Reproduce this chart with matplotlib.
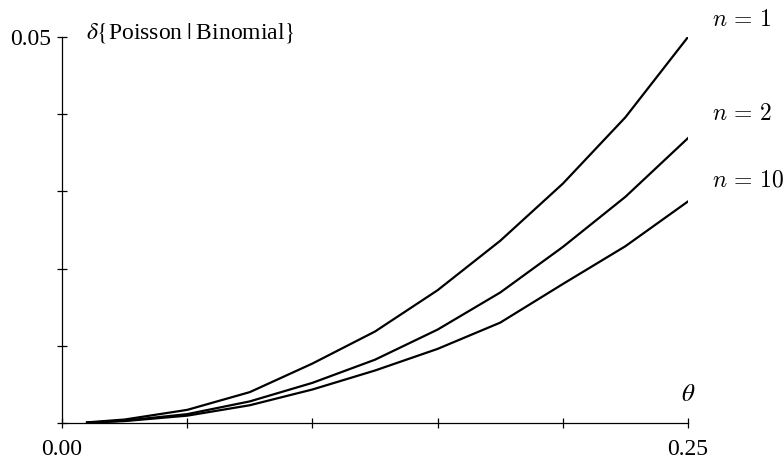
import matplotlib
matplotlib.use("Agg")
import matplotlib.pyplot as plt

theta = [0.01, 0.025, 0.05, 0.075, 0.1, 0.125, 0.15, 0.175, 0.2, 0.225, 0.25]
delta_n1 = [0.00008, 0.00045, 0.0017, 0.0040, 0.0077, 0.01185, 0.0172, 0.0236, 0.0310, 0.0396, 0.0500]
delta_n2 = [0.00005, 0.0003, 0.00115, 0.0028, 0.0052, 0.0082, 0.0121, 0.0169, 0.0228, 0.0293, 0.0369]
delta_n10 = [0.00004, 0.00025, 0.00095, 0.0023, 0.00434, 0.0068, 0.0096, 0.0130, 0.0180, 0.0229, 0.0287]
series_labels = ["$n\\,=\\,1$", "$n\\,=\\,2$", "$n\\,=\\,10$"]

x_ticks = [0.0, 0.05, 0.1, 0.15, 0.2, 0.25]
x_ticklabels = ["0.00", "", "", "", "", "0.25"]
y_ticks = [0.0, 0.01, 0.02, 0.03, 0.04, 0.05]
y_ticklabels = ["", "", "", "", "", "0.05"]

plt.rcParams['font.family'] = ['Liberation Serif', 'DejaVu Serif']
plt.rcParams['mathtext.fontset'] = 'stix'

fig = plt.figure(figsize=(7.84, 4.63), dpi=100)
ax = fig.add_axes([62/784, 40/463, (688-62)/784, (423-37)/463])

for ys in (delta_n1, delta_n2, delta_n10):
    ax.plot(theta, ys, color='black', lw=1.6, solid_joinstyle='round')

ax.set_xlim(0, 0.25)
ax.set_ylim(0, 0.05)
ax.set_xticks(x_ticks)
ax.set_xticklabels(x_ticklabels)
ax.set_yticks(y_ticks)
ax.set_yticklabels(y_ticklabels)
ax.tick_params(axis='x', direction='inout', length=7, width=0.9, labelsize=17, pad=8)
ax.tick_params(axis='y', direction='inout', length=7, width=0.9, labelsize=17, pad=4)
for s in ('top', 'right'):
    ax.spines[s].set_visible(False)
for s in ('left', 'bottom'):
    ax.spines[s].set_linewidth(0.9)

# axis labels
fig.text(86/784, 1 - 33/463, r"$\delta\{$Poisson$\;|\;$Binomial$\}$", fontsize=17,
         ha='left', va='center')
fig.text(688/784, 1 - 395/463, r"$\theta$", fontsize=18, ha='center', va='center')

# series labels
label_y = [20, 115, 181]
for lab, yp in zip(series_labels, label_y):
    fig.text(712/784, 1 - yp/463, lab, fontsize=17, ha='left', va='center',
             math_fontfamily='cm')

fig.savefig("out.png", dpi=100)
